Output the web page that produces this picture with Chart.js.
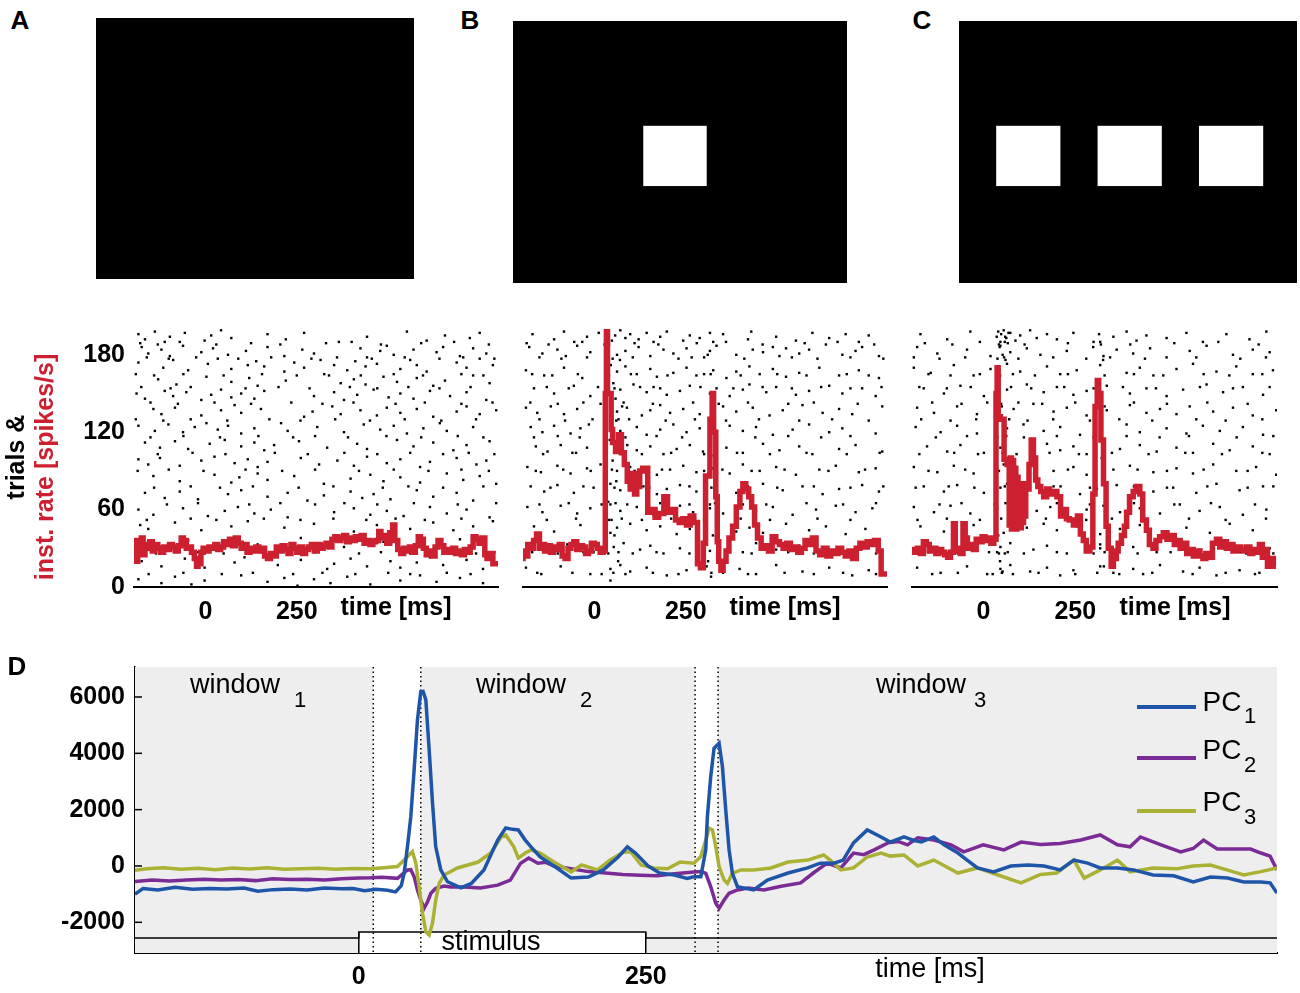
<!DOCTYPE html>
<html>
<head>
<meta charset="utf-8">
<script src="https://cdn.jsdelivr.net/npm/chart.js@4.4.1/dist/chart.umd.min.js"></script>
<style>
    body { margin: 0; background: #fff; width: 1300px; height: 993px; position: relative; overflow: hidden;
           font-family: "Liberation Sans", Arial, sans-serif; color: #000; }
    .box { position: absolute; }
    .t { position: absolute; transform: translate(-50%, -50%); line-height: 1; white-space: nowrap; }
    .b { font-weight: bold; }
    .rot { transform: translate(-50%, -50%) rotate(-90deg); }
    .key { position: absolute; left: 1137px; width: 59px; height: 4px; }
</style>
</head>
<body>
<!-- stimulus displays -->
<div class="box" style="left:96px;top:18px;width:318px;height:261px"><canvas id="stimA"></canvas></div>
<div class="box" style="left:513px;top:21px;width:334px;height:262px"><canvas id="stimB"></canvas></div>
<div class="box" style="left:959px;top:21px;width:338px;height:262px"><canvas id="stimC"></canvas></div>

<!-- rasters -->
<div class="box" style="left:60px;top:305px;width:450px;height:325px"><canvas id="rasterA"></canvas></div>
<div class="box" style="left:515px;top:320px;width:380px;height:310px"><canvas id="rasterB"></canvas></div>
<div class="box" style="left:905px;top:320px;width:380px;height:310px"><canvas id="rasterC"></canvas></div>

<!-- PCA panel -->
<div class="box" style="left:0;top:642px;width:1300px;height:351px"><canvas id="pcaD"></canvas></div>

<div class="t b" style="left:20px;top:20px;font-size:26px">A</div>
<div class="t b" style="left:470px;top:20px;font-size:26px">B</div>
<div class="t b" style="left:922px;top:20px;font-size:26px">C</div>
<div class="t b" style="left:17px;top:666px;font-size:26px">D</div>

<div class="t b rot" style="left:15px;top:457px;font-size:25px">trials &amp;</div>
<div class="t b rot" style="left:44px;top:467px;font-size:25px;color:#cc2030">inst. rate [spikes/s]</div>
<div class="t b" style="left:396px;top:606px;font-size:25px">time [ms]</div>
<div class="t b" style="left:785px;top:606px;font-size:25px">time [ms]</div>
<div class="t b" style="left:1175px;top:606px;font-size:25px">time [ms]</div>

<div class="t" style="left:235px;top:684px;font-size:27px">window</div>
<div class="t" style="left:300px;top:700px;font-size:22px">1</div>
<div class="t" style="left:521px;top:684px;font-size:27px">window</div>
<div class="t" style="left:586px;top:700px;font-size:22px">2</div>
<div class="t" style="left:921px;top:684px;font-size:27px">window</div>
<div class="t" style="left:980px;top:700px;font-size:22px">3</div>
<div class="t" style="left:491px;top:941px;font-size:27px">stimulus</div>
<div class="t" style="left:930px;top:968px;font-size:27px">time [ms]</div>

<div class="key" style="top:705px;background:#1f55a8"></div>
<div class="key" style="top:756px;background:#7b2b95"></div>
<div class="key" style="top:809px;background:#abb134"></div>
<div class="t" style="left:1222px;top:702px;font-size:28px">PC</div>
<div class="t" style="left:1250px;top:716px;font-size:22px">1</div>
<div class="t" style="left:1222px;top:750px;font-size:28px">PC</div>
<div class="t" style="left:1250px;top:765px;font-size:22px">2</div>
<div class="t" style="left:1222px;top:802px;font-size:28px">PC</div>
<div class="t" style="left:1250px;top:817px;font-size:22px">3</div>

<script>
// ---- stimulus squares, in display units (x0, x1, y0, y1), 0-100 each way
const squaresA = [];
const squaresB = [[39, 58, 37, 60]];
const squaresC = [[11, 30, 37, 60], [41, 60, 37, 60], [71, 90, 37, 60]];

// ---- raster / rate panels: time [ms], trial or spikes/s
const rasterXTicks = [0, 250];
const rasterYTicks = [0, 60, 120, 180];

// instantaneous rate, [time, spikes/s] steps
const rateA = [[-195,22],[-190,36],[-185,20],[-180,34],[-175,26],[-170,38],[-165,25],[-160,33],[-152,30],[-145,35],[-138,28],[-130,33],[-122,30],[-114,27],[-106,31],[-98,29],[-90,33],[-82,31],[-74,28],[-66,32],[-60,38],[-52,36],[-46,30],[-38,31],[-30,27],[-24,22],[-20,16],[-12,18],[-6,27],[2,30],[10,28],[18,31],[26,30],[34,33],[42,29],[50,31],[58,35],[66,33],[74,37],[82,32],[90,38],[98,34],[106,30],[114,33],[122,27],[130,30],[138,28],[146,31],[154,28],[162,30],[170,24],[178,22],[186,26],[194,24],[202,31],[210,28],[218,32],[226,29],[234,26],[242,33],[250,30],[258,27],[266,31],[274,26],[282,29],[290,31],[298,33],[306,28],[314,33],[322,30],[330,32],[338,34],[346,31],[354,37],[362,39],[370,36],[378,38],[386,40],[394,35],[402,38],[410,36],[418,39],[426,37],[434,40],[442,34],[450,36],[458,33],[466,35],[474,36],[480,43],[488,38],[496,40],[504,34],[512,42],[518,48],[526,36],[534,29],[542,26],[550,30],[558,28],[566,31],[574,27],[582,32],[588,39],[596,37],[604,30],[612,25],[620,28],[628,24],[636,31],[644,36],[652,32],[660,27],[668,29],[676,27],[684,30],[692,26],[700,28],[708,25],[716,29],[724,27],[732,31],[740,39],[748,37],[756,34],[764,38],[770,25],[778,22],[786,26],[792,18],[800,18]];
const rateB = [[-195,20],[-188,28],[-182,24],[-174,33],[-166,30],[-158,36],[-150,41],[-144,30],[-136,33],[-128,28],[-120,32],[-112,27],[-104,31],[-96,29],[-88,33],[-80,24],[-72,22],[-64,30],[-56,33],[-48,35],[-40,29],[-32,32],[-24,31],[-16,26],[-8,28],[0,34],[8,33],[16,30],[24,27],[30,28],[33,150],[36,200],[46,150],[50,122],[58,112],[66,105],[74,118],[82,104],[90,95],[98,82],[104,76],[110,88],[116,72],[124,78],[132,90],[146,92],[156,58],[166,60],[176,54],[190,57],[200,70],[212,58],[222,60],[232,52],[242,50],[252,53],[262,48],[272,55],[282,50],[290,18],[298,15],[304,34],[316,86],[322,130],[326,150],[332,120],[336,70],[340,35],[346,20],[352,13],[360,20],[368,28],[378,38],[388,47],[398,62],[406,74],[414,80],[422,76],[430,70],[438,62],[446,48],[456,38],[466,30],[476,32],[486,28],[496,39],[506,35],[516,33],[526,30],[536,34],[546,29],[556,31],[566,27],[576,30],[586,36],[596,33],[606,38],[616,28],[626,25],[636,30],[646,24],[656,28],[666,26],[676,30],[686,27],[696,24],[706,28],[716,22],[726,30],[736,34],[746,31],[756,35],[766,33],[776,36],[784,28],[790,10],[800,10]];
const rateC = [[-195,26],[-188,29],[-180,27],[-172,30],[-164,26],[-156,35],[-148,33],[-138,28],[-130,30],[-122,26],[-114,29],[-106,27],[-98,25],[-90,23],[-82,27],[-77,49],[-70,30],[-63,28],[-56,26],[-50,49],[-44,38],[-36,30],[-28,33],[-20,29],[-12,37],[-4,35],[4,39],[12,36],[20,38],[28,34],[34,37],[37,150],[40,170],[46,132],[56,130],[64,99],[70,95],[73,48],[76,100],[79,45],[82,98],[85,50],[88,92],[91,45],[94,85],[97,48],[100,80],[103,46],[106,78],[109,50],[112,75],[115,55],[118,80],[124,76],[130,95],[136,114],[142,100],[148,83],[156,78],[164,74],[172,70],[180,76],[191,72],[200,74],[210,70],[218,55],[226,60],[234,53],[245,52],[256,48],[264,55],[272,41],[280,36],[290,28],[298,31],[304,72],[310,140],[314,160],[320,150],[327,114],[334,80],[340,47],[348,30],[354,16],[362,22],[367,28],[376,34],[384,40],[390,47],[398,58],[408,70],[416,74],[426,78],[434,72],[444,52],[452,44],[462,33],[470,30],[480,36],[490,39],[500,42],[510,37],[520,40],[526,33],[536,36],[546,30],[554,34],[562,26],[572,29],[582,24],[590,28],[598,24],[606,22],[614,26],[624,23],[635,34],[644,37],[652,31],[662,35],[671,30],[680,33],[690,28],[700,31],[708,29],[716,28],[726,31],[734,26],[744,29],[752,27],[760,33],[768,23],[774,29],[780,16],[790,22],[797,16]];

// spikes, [time, trial]
const spikesA = [
[-183,196],[-165,192],[-138,198],[-111,190],[-97,194],[-56,197],[-2,191],[16,195],[43,199],[71,193],[170,196],[220,192],[270,197],[365,190],[442,194],[551,198],[605,191],[655,195],[723,193],[750,197],
[-174,186],[-156,181],[-120,184],[-97,179],[-61,187],[-11,182],[21,185],[62,180],[111,183],[170,186],[216,179],[265,184],[297,181],[424,185],[442,178],[478,183],[496,187],[515,180],[569,184],[632,182],[650,186],[696,179],[732,185],[768,181],
[-183,174],[-115,170],[-88,176],[-47,168],[7,173],[34,177],[71,169],[116,172],[139,175],[161,171],[216,167],[243,174],[270,170],[315,176],[352,172],[388,168],[410,175],[438,171],[469,173],[533,169],[560,176],[578,172],[605,167],[687,174],[714,170],[750,177],[786,172],
[-129,161],[-79,157],[3,163],[71,159],[120,162],[143,156],[220,160],[338,164],[370,158],[406,161],[438,157],[487,163],[524,159],[578,162],[623,156],[655,160],[732,164],[777,158],
[-188,150],[-165,146],[-111,152],[-88,148],[-52,151],[-11,145],[16,149],[43,153],[71,147],[98,150],[134,146],[161,152],[297,148],[352,151],[379,145],[415,149],[460,153],[501,147],[533,150],[569,146],[614,152],[669,148],[714,151],[768,145],
[-142,138],[-120,134],[-83,139],[-11,133],[43,137],[80,141],[98,135],[152,138],[270,132],[293,136],[347,140],[370,134],[424,137],[469,133],[496,139],[533,135],[578,138],[623,132],[687,136],[714,140],[750,134],[795,137],
[-183,125],[-138,121],[-101,126],[-61,120],[-29,124],[3,127],[34,122],[62,125],[98,119],[134,123],[207,127],[225,121],[306,124],[379,120],[433,126],[478,122],[515,125],[551,119],[596,123],[641,127],[660,121],[732,124],
[-165,112],[-124,108],[-83,113],[-47,107],[12,111],[53,114],[98,109],[134,112],[161,106],[188,110],[256,113],[333,108],[415,111],[442,107],[524,114],[569,109],[623,112],[678,106],[714,110],[777,113],
[-183,99],[-156,95],[-124,100],[-70,94],[-11,98],[25,101],[80,96],[116,99],[143,93],[170,97],[261,100],[311,95],[361,98],[406,94],[442,101],[496,96],[533,99],[587,93],[614,97],[687,100],[741,95],[768,98],
[-142,86],[-70,82],[25,87],[71,81],[93,85],[143,88],[170,83],[243,86],[324,80],[397,84],[451,87],[487,82],[533,85],[587,81],[660,88],[705,83],[750,86],[795,80],
[-165,73],[-111,69],[-70,74],[-20,68],[62,72],[98,75],[170,70],[225,73],[279,67],[324,71],[397,74],[429,69],[460,72],[506,68],[578,75],[623,70],[687,73],[732,67],
[-183,60],[-142,56],[-61,61],[7,55],[53,59],[89,62],[134,57],[179,60],[225,54],[352,58],[406,61],[451,56],[496,59],[542,55],[614,62],[660,57],[714,60],[777,54],
[-178,48],[-156,45],[-83,50],[-11,44],[71,47],[116,51],[216,46],[297,49],[406,43],[469,48],[560,45],[623,50],[678,44],[732,47],[786,51],
[-47,36],[143,33],[261,38],[379,31],[487,35],[578,32],[696,37],
[-174,20],[-120,16],[-56,22],[-2,15],[80,19],[107,23],[198,17],[261,21],[333,14],[352,18],[397,22],[442,16],[506,20],[533,15],[578,19],[614,23],[650,17],[714,21],[759,14],
[-183,6],[-120,3],[-83,8],[-38,2],[-2,5],[98,9],[170,4],[216,7],[252,1],[297,6],[342,3],[388,8],[451,2],[533,5],[587,9],[632,4],[696,7],[759,3],
[-178,189],[-130,188],[-70,190],[30,188],[125,189],[205,188],[330,189],[400,190],[480,188],[590,189],[680,190],[775,188],
[-160,178],[-100,177],[-25,178],[90,177],[180,178],[290,177],[360,178],[455,177],[545,178],[640,177],[705,178],[790,177],
[-190,165],[-140,164],[-60,165],[50,164],[155,165],[250,164],[325,165],[425,164],[515,165],[595,164],[700,165],[760,164],
[-175,155],[-95,154],[-40,155],[110,154],[200,155],[285,154],[395,155],[470,154],[555,155],[640,154],[725,155],
[-150,143],[-75,142],[25,143],[125,142],[235,143],[320,142],[405,143],[520,142],[600,143],[700,142],[785,143],
[-190,130],[-115,129],[-40,130],[60,129],[175,130],[260,129],[355,130],[450,129],[545,130],[645,129],[740,130],
[-150,116],[-60,117],[40,116],[145,117],[240,116],[300,117],[390,116],[495,117],[590,116],[690,117],[760,116],
[-130,103],[-35,104],[55,103],[190,104],[280,103],[380,104],[470,103],[560,104],[650,103],[720,104],[790,103],
[-185,90],[-100,91],[-5,90],[110,91],[210,90],[300,91],[420,90],[515,91],[610,90],[700,91],[775,90],
[-140,77],[-40,78],[40,77],[130,78],[255,77],[350,78],[485,77],[555,78],[650,77],[760,78],
[-105,64],[-20,65],[120,64],[205,65],[300,64],[380,65],[470,64],[570,65],[690,64],[795,65],
[-160,52],[-40,53],[30,52],[160,53],[260,52],[350,53],[440,52],[520,53],[600,52],[700,53],
[-190,27],[-135,26],[-20,27],[50,26],[150,27],[230,26],[300,27],[420,26],[480,27],[560,26],[680,27],[740,26],[790,27],
[-155,10],[-60,11],[45,10],[130,11],[240,10],[320,11],[410,10],[500,11],[560,10],[660,11],[725,10]
];
const spikesB = [
[-169,196],[-110,192],[-83,198],[-33,190],[-20,194],[12,197],[48,191],[57,195],[71,199],[85,193],[98,196],[121,192],[143,197],[162,190],[180,194],[198,198],[243,191],[261,195],[288,193],[316,197],[325,190],[352,196],[420,192],[429,198],[497,194],[551,191],[596,197],[642,193],[687,196],[723,190],[750,195],
[-178,186],[-142,181],[-101,184],[-78,179],[-47,187],[-11,182],[35,185],[62,180],[85,183],[121,186],[153,179],[189,184],[216,181],[252,185],[266,178],[316,183],[334,187],[388,180],[433,184],[461,182],[488,186],[506,179],[524,185],[560,181],[587,184],[633,188],[678,180],[714,183],[732,186],[778,179],
[-187,168],[-137,164],[-83,170],[-33,162],[62,167],[85,171],[116,165],[153,169],[171,163],[216,166],[252,170],[279,164],[325,168],[361,162],[388,167],[424,171],[452,165],[488,169],[524,163],[560,166],[615,170],[669,164],[723,168],[778,162],
[-165,154],[-110,150],[-56,156],[-11,148],[71,153],[107,157],[143,151],[162,155],[198,149],[234,152],[261,156],[316,150],[334,154],[370,148],[406,153],[424,157],[470,151],[497,155],[551,149],[587,152],[642,156],[678,150],[732,154],[769,148],
[-187,139],[-156,135],[-119,140],[-83,134],[-47,138],[17,142],[62,136],[89,139],[130,133],[153,137],[180,141],[207,135],[243,138],[288,134],[352,140],[388,136],[433,139],[479,133],[515,137],[569,141],[624,135],[669,138],[705,134],[787,140],
[-174,124],[-142,120],[-110,125],[-65,119],[-38,123],[-15,126],[71,121],[116,124],[143,118],[180,122],[216,126],[252,120],[288,123],[316,119],[370,125],[406,121],[442,124],[488,118],[542,122],[587,126],[642,120],[678,123],[769,119],
[-160,109],[-128,105],[-92,110],[-60,104],[-20,108],[71,111],[116,106],[153,109],[189,103],[225,107],[261,110],[297,105],[361,108],[406,104],[461,111],[506,106],[560,109],[596,103],[669,107],[714,110],[787,105],
[-183,93],[-146,89],[-101,94],[-65,88],[-20,92],[17,95],[62,90],[98,93],[171,87],[207,91],[243,94],[279,89],[325,92],[370,88],[406,95],[452,90],[497,93],[551,87],[615,91],[660,94],[723,89],[769,92],
[-174,78],[-137,74],[-101,79],[-56,73],[-2,77],[44,80],[71,75],[134,78],[171,72],[198,76],[234,79],[279,74],[334,77],[388,73],[461,80],[515,75],[569,78],[624,72],[669,76],[732,79],[778,74],
[-183,62],[-142,58],[-92,63],[-47,57],[-11,61],[44,64],[71,59],[116,62],[162,56],[198,60],[234,63],[270,58],[316,61],[352,57],[406,64],[442,59],[488,62],[542,56],[606,60],[660,63],[714,58],[760,61],
[-165,47],[-110,43],[-38,48],[44,42],[62,46],[98,49],[143,44],[180,47],[225,41],[261,45],[334,48],[388,43],[424,46],[461,42],[524,49],[587,44],[633,47],[687,41],[741,45],
[-183,32],[-128,28],[-74,33],[-2,27],[53,31],[80,34],[125,29],[153,32],[189,26],[234,30],[279,33],[316,28],[370,31],[406,27],[442,34],[497,29],[560,32],[624,26],[669,30],[750,33],[778,28],
[-187,15],[-156,11],[-92,16],[-11,10],[44,14],[71,17],[98,12],[143,15],[198,9],[252,13],[307,16],[352,11],[397,14],[442,10],[497,17],[569,12],[642,15],[705,9],[750,13],
[40,188],[45,172],[52,158],[58,146],[66,130],[42,114],[50,98],[60,82],[38,66],[47,52],[55,40],[65,20],[44,5],[70,176],[76,140],[90,110],[310,180],[318,165],[322,150],[326,130],[314,120],[320,102],[312,88],[328,76],[316,64],[324,40],[311,20],[319,8],
[-185,189],[-125,188],[-55,190],[28,188],[110,189],[175,188],[280,189],[360,190],[460,188],[575,189],[665,190],[765,188],
[-150,178],[-90,177],[-20,178],[50,177],[105,178],[230,177],[300,178],[410,177],[540,178],[610,177],[700,178],[790,177],
[-170,165],[-115,164],[-45,165],[40,164],[100,165],[200,164],[300,165],[400,164],[500,165],[580,164],[690,165],[750,164],
[-130,155],[-70,154],[10,155],[55,154],[125,155],[180,154],[290,155],[380,154],[460,155],[540,154],[620,155],[700,154],[785,155],
[-175,143],[-100,142],[-30,143],[48,142],[80,143],[160,142],[270,143],[340,142],[420,143],[530,142],[600,143],[720,142],
[-150,130],[-80,129],[-5,130],[60,129],[95,130],[195,129],[275,130],[360,129],[450,130],[560,129],[650,130],[750,129],
[-165,116],[-100,117],[-40,116],[52,117],[85,116],[170,117],[240,116],[330,117],[440,116],[530,117],[620,116],[700,117],
[-140,103],[-50,104],[30,103],[68,104],[130,103],[210,104],[300,103],[390,104],[480,103],[580,104],[690,103],[780,104],
[-160,90],[-85,91],[-10,90],[48,91],[110,90],[185,91],[300,90],[350,91],[430,90],[520,91],[640,90],[740,91],
[-120,77],[-30,78],[55,77],[95,78],[150,77],[260,78],[320,77],[420,78],[500,77],[600,78],[700,77],[790,78],
[-150,64],[-70,65],[20,64],[58,65],[90,64],[180,65],[260,64],[330,65],[470,64],[580,65],[680,64],[770,65],
[-130,52],[-50,53],[40,52],[75,53],[130,52],[210,53],[300,52],[400,53],[480,52],[610,53],[700,52],
[-170,27],[-100,26],[-30,27],[38,26],[66,27],[105,26],[170,27],[260,26],[340,27],[430,26],[530,27],[600,26],[700,27],[770,26],
[-145,10],[-60,11],[20,10],[52,11],[85,10],[160,11],[230,10],[320,11],[420,10],[520,11],[600,10],[680,11],[770,10]
];
const spikesC = [
[-172,196],[-99,192],[-36,198],[46,190],[59,194],[73,197],[87,191],[100,195],[127,199],[145,193],[173,196],[200,192],[245,197],[318,190],[354,194],[390,198],[417,191],[444,195],[499,193],[553,197],[598,190],[662,196],[725,192],[771,198],
[-181,186],[-126,181],[-45,184],[19,179],[46,187],[73,182],[118,185],[155,180],[227,183],[299,186],[327,179],[363,184],[408,181],[454,185],[499,178],[562,183],[608,187],[680,180],[734,184],[780,182],
[-190,170],[-144,166],[-81,172],[-27,164],[19,169],[64,173],[100,167],[173,171],[209,165],[254,168],[318,172],[390,166],[426,170],[463,164],[526,169],[571,173],[635,167],[689,171],[734,165],[789,168],
[-163,154],[-108,150],[-63,156],[1,148],[64,153],[118,157],[164,151],[200,155],[245,149],[281,152],[336,156],[399,150],[444,154],[499,148],[544,153],[608,157],[653,151],[707,155],[762,149],
[-181,139],[-135,135],[-72,140],[-18,134],[82,138],[136,142],[191,136],[227,139],[281,133],[336,137],[399,141],[444,135],[481,138],[526,134],[562,140],[626,136],[680,139],[734,133],[798,137],
[-185,124],[-117,120],[-72,125],[-18,119],[64,123],[109,126],[164,121],[209,124],[263,118],[318,122],[390,126],[426,120],[499,123],[553,119],[598,125],[644,121],[707,124],[762,118],
[-154,109],[-99,105],[-63,110],[1,104],[46,108],[173,111],[209,106],[245,109],[281,103],[372,107],[426,110],[472,105],[526,108],[571,104],[626,111],[671,106],[734,109],[780,103],
[-190,93],[-126,89],[-81,94],[-27,88],[37,92],[55,95],[191,90],[245,93],[281,87],[354,91],[399,94],[463,89],[526,92],[571,88],[626,95],[689,90],[743,93],[798,87],
[-163,78],[-108,74],[-72,79],[1,73],[46,77],[64,80],[155,75],[191,78],[263,72],[309,76],[363,79],[463,74],[517,77],[580,73],[635,80],[698,75],[762,78],
[-190,62],[-135,58],[-90,63],[-36,57],[37,61],[73,64],[145,59],[182,62],[227,56],[281,60],[327,63],[372,58],[426,61],[481,57],[535,64],[589,59],[644,62],[707,56],[771,60],
[-172,47],[-108,43],[-27,48],[55,42],[118,46],[164,49],[200,44],[254,47],[318,41],[372,45],[426,48],[499,43],[553,46],[617,42],[671,49],[734,44],
[-163,32],[-90,28],[-36,33],[37,27],[46,31],[73,34],[136,29],[173,32],[227,26],[281,30],[318,33],[363,28],[408,31],[472,27],[535,34],[589,29],[644,32],[716,26],[780,30],
[-181,15],[-117,11],[-45,16],[10,10],[46,14],[73,17],[127,12],[173,15],[209,9],[245,13],[318,16],[354,11],[408,14],[435,10],[481,17],[544,12],[589,15],[635,9],[698,13],[752,11],
[40,198],[48,196],[55,199],[62,193],[68,197],[44,186],[52,180],[60,176],[35,150],[50,140],[45,20],[52,12],[58,26],[40,40],[315,196],[320,188],[326,176],[310,160],[330,140],[322,100],[318,30],[328,16],[36,194],[58,190],
[-160,189],[-85,188],[-10,190],[42,188],[66,189],[112,188],[230,189],[300,190],[400,188],[520,189],[640,190],[750,188],
[-190,178],[-120,177],[-50,178],[38,177],[56,178],[95,177],[190,178],[280,177],[345,178],[440,177],[580,178],[700,177],[770,178],
[-150,165],[-90,164],[-10,165],[45,164],[80,165],[140,164],[230,165],[330,164],[410,165],[490,164],[600,165],[670,164],[760,165],
[-175,155],[-100,154],[-35,155],[40,154],[75,155],[130,154],[220,155],[300,154],[380,155],[470,154],[590,155],[680,154],[780,155],
[-140,143],[-60,142],[10,143],[48,142],[95,143],[160,142],[250,143],[320,142],[410,143],[500,142],[610,143],[720,142],
[-170,130],[-90,129],[-20,130],[44,129],[70,130],[120,129],[190,130],[290,129],[370,130],[460,129],[580,130],[660,129],[760,130],
[-130,116],[-45,117],[38,116],[62,117],[110,116],[200,117],[300,116],[390,117],[480,116],[560,117],[690,116],[790,117],
[-175,103],[-80,104],[-15,103],[52,104],[90,103],[180,104],[260,103],[350,104],[450,103],[550,104],[650,103],[760,104],
[-150,90],[-50,91],[42,90],[80,91],[125,90],[230,91],[330,90],[420,91],[500,90],[600,91],[720,90],
[-185,77],[-95,78],[-25,77],[58,78],[100,77],[210,78],[290,77],[410,78],[500,77],[610,78],[720,77],[790,78],
[-120,64],[-60,65],[30,64],[60,65],[100,64],[200,65],[290,64],[410,65],[520,64],[620,65],[740,64],
[-180,52],[-100,53],[-10,52],[48,53],[90,52],[170,53],[280,52],[350,53],[440,52],[560,53],[660,52],[770,53],
[-150,27],[-70,26],[15,27],[42,26],[66,27],[110,26],[200,27],[300,26],[330,27],[420,26],[510,27],[620,26],[700,27],[790,26],
[-140,10],[-70,11],[25,10],[50,11],[80,10],[150,11],[250,10],[310,11],[370,10],[460,11],[570,10],[660,11],[740,10]
];

// ---- panel D: principal components, [time ms, score]
const dXTicks = [0, 250];
const dYTicks = [-2000, 0, 2000, 4000, 6000];
const windowsD = [[-195, 12.6], [54, 293], [313, 800]];   // shaded analysis windows
const windowEdges = [12.6, 54, 293, 313];                // dotted borders
const stimulusOn = 0, stimulusOff = 250;
const stripLevel = -2556, stimBoxTop = -2343;

const pc1 = [[-195,-1000],[-188,-800],[-175,-850],[-160,-760],[-145,-830],[-130,-800],[-115,-820],[-100,-780],[-88,-900],[-75,-840],[-60,-820],[-45,-850],[-30,-780],[-15,-810],[-5,-800],[5,-880],[15,-830],[25,-860],[32,-920],[37,-700],[39.5,-260],[42.4,690],[45.3,1750],[48.2,3410],[51.1,5190],[54,6190],[56,6200],[58.4,5900],[61.3,4120],[64.2,2240],[67,690],[71.4,-140],[77.3,-560],[89,-780],[98,-620],[109,-140],[121,920],[128,1350],[134,1300],[139,1280],[145,920],[150,680],[158,320],[170,0],[185,-430],[200,-390],[213,-140],[226,320],[234,680],[241,460],[252,0],[262,-250],[275,-320],[286,-440],[292,-380],[298,-380],[302.3,570],[303.7,1750],[306.6,3170],[309.5,4180],[313.9,4360],[316.8,3530],[319.7,1990],[322.6,570],[325.5,-260],[329.9,-735],[344,-850],[356,-500],[374,-250],[391,-70],[402,100],[414,100],[422,210],[431,820],[443,1280],[455,1030],[463,850],[475,1030],[484,900],[490,850],[501,1030],[510,750],[522,460],[530,210],[539,-70],[553,-210],[568,0],[583,35],[597,0],[611,-140],[623,210],[635,100],[646,-70],[661,-70],[675,-140],[692,-320],[710,-350],[727,-570],[742,-390],[757,-430],[771,-570],[786,-570],[794,-600],[800,-960]];
const pc2 = [[-195,-550],[-180,-500],[-165,-530],[-150,-500],[-135,-470],[-120,-500],[-105,-480],[-90,-520],[-75,-450],[-60,-480],[-45,-470],[-30,-500],[-15,-450],[0,-430],[10,-420],[20,-400],[33.7,-440],[42.4,-140],[45.3,-130],[48.2,-380],[51.1,-850],[54,-1210],[56.9,-1500],[59.9,-1270],[62.8,-970],[67,-790],[74.3,-710],[80,-750],[92,-750],[106,-780],[121,-680],[132,-500],[141,100],[148,280],[156,100],[163,130],[170,0],[185,-100],[200,-200],[215,-250],[230,-300],[245,-330],[260,-350],[275,-280],[292,-210],[298,-200],[302.3,-260],[306.6,-735],[311,-1325],[313.9,-1500],[318.3,-1210],[322.6,-970],[329.9,-850],[339,-780],[353,-850],[368,-720],[385,-600],[396,-250],[408,100],[420,-70],[431,460],[440,400],[449,570],[461,820],[470,870],[478,750],[487,1000],[501,920],[516,750],[527,500],[544,750],[562,570],[577,850],[594,760],[611,800],[629,920],[646,1100],[661,750],[672,680],[681,1030],[699,750],[716,500],[727,620],[736,920],[748,600],[762,600],[777,600],[786,460],[794,350],[800,-140]];
const pc3 = [[-195,-150],[-185,-100],[-170,-60],[-155,-120],[-140,-80],[-125,-130],[-110,-70],[-95,-110],[-80,-60],[-65,-120],[-50,-100],[-35,-80],[-20,-120],[-5,-90],[10,-100],[22,-60],[33.7,-20],[42.4,330],[46.7,510],[49.7,95],[52.5,-735],[55.5,-1680],[58.4,-2330],[61.3,-2450],[64.2,-2035],[67,-1210],[70,-615],[74.3,-320],[86,-70],[104,140],[115,460],[124,1030],[128,1100],[135,680],[139,280],[145,460],[150,570],[158,460],[170,140],[185,-210],[194,35],[208,-140],[219,210],[231,500],[237,500],[246,35],[257,-70],[269,-100],[280,140],[292,95],[297.9,330],[302.3,920],[305.2,1340],[308.1,1280],[311,690],[313.9,-20],[318.3,-500],[321.2,-615],[325.5,-260],[332.8,-140],[344,-140],[359,-70],[374,140],[391,210],[405,390],[411,200],[420,-140],[431,-70],[443,320],[455,460],[463,350],[475,390],[487,0],[501,210],[522,-250],[539,-70],[557,-320],[577,-600],[594,-300],[608,-250],[623,210],[632,-430],[646,-140],[661,210],[672,-210],[692,-70],[713,-100],[727,0],[742,35],[757,-150],[771,-320],[786,-200],[800,-70]];

const T_MIN = -195, T_MAX = 800;
const D_MIN = -3090, D_MAX = 7065;

const RED = '#cc2030', BLUE = '#1f55a8', PURPLE = '#7b2b95', OLIVE = '#abb134', GREY = '#eeeeee';

Chart.defaults.font.family = '"Liberation Sans", Arial, sans-serif';
Chart.defaults.color = '#000';
Chart.defaults.animation = false;
Chart.defaults.events = [];
Chart.defaults.plugins.legend.display = false;
Chart.defaults.plugins.tooltip.enabled = false;

const xy = arr => arr.map(p => ({ x: p[0], y: p[1] }));
const fixedTicks = list => scale => { scale.ticks = list.map(v => ({ value: v })); };
const plain = v => String(v);
const tickFont = { size: 25, weight: 'bold' };
const noGrid = { display: false, drawTicks: false };

// black screen with white squares
const stimPlugin = {
    id: 'stim',
    beforeDraw(chart, args, opts) {
        const { ctx, chartArea: a, scales: { x, y } } = chart;
        ctx.save();
        ctx.fillStyle = '#000';
        ctx.fillRect(a.left, a.top, a.width, a.height);
        ctx.fillStyle = '#fff';
        opts.squares.forEach(s => {
            const x0 = x.getPixelForValue(s[0]), x1 = x.getPixelForValue(s[1]);
            const yTop = y.getPixelForValue(s[3]), yBot = y.getPixelForValue(s[2]);
            ctx.fillRect(x0, yTop, x1 - x0, yBot - yTop);
        });
        ctx.restore();
    }
};

function stimulusChart(id, squares) {
    new Chart(document.getElementById(id), {
        type: 'scatter',
        data: { datasets: [] },
        options: {
            responsive: true, maintainAspectRatio: false,
            layout: { padding: 0 },
            plugins: { stim: { squares } },
            scales: {
                x: { type: 'linear', min: 0, max: 100, display: false },
                y: { type: 'linear', min: 0, max: 100, display: false }
            }
        },
        plugins: [stimPlugin]
    });
}

function rasterChart(id, spikes, rate, showY, padding) {
    new Chart(document.getElementById(id), {
        type: 'scatter',
        data: {
            datasets: [
                { type: 'line', data: xy(rate), stepped: 'after', borderColor: RED, borderWidth: 5.5,
                  pointRadius: 0, fill: false, order: 0 },
                { data: xy(spikes), pointStyle: 'rect', pointRadius: 1.7, backgroundColor: '#000',
                  borderWidth: 0, order: 1 }
            ]
        },
        options: {
            responsive: true, maintainAspectRatio: false,
            layout: { padding },
            scales: {
                x: {
                    type: 'linear', min: T_MIN, max: T_MAX,
                    grid: noGrid, border: { color: '#000', width: 2 },
                    ticks: { font: tickFont, padding: 10, maxRotation: 0, callback: plain },
                    afterBuildTicks: fixedTicks(rasterXTicks),
                    afterFit: s => { s.height = 43; }
                },
                y: {
                    display: showY, type: 'linear', min: 0, max: 200,
                    grid: noGrid, border: { display: false },
                    ticks: { font: tickFont, padding: 9, callback: plain },
                    afterBuildTicks: fixedTicks(rasterYTicks),
                    afterFit: s => { s.width = showY ? 74 : 0; }
                }
            }
        }
    });
}

// shaded windows, stimulus strip and inward y ticks for panel D
const windowShade = {
    id: 'windowShade',
    beforeDatasetsDraw(chart) {
        const { ctx, chartArea: a, scales: { x, y } } = chart;
        const yStrip = y.getPixelForValue(stripLevel);
        ctx.save();
        ctx.fillStyle = GREY;
        windowsD.forEach(w => {
            const x0 = x.getPixelForValue(w[0]), x1 = x.getPixelForValue(w[1]);
            ctx.fillRect(x0, a.top, x1 - x0, yStrip - a.top);
        });
        ctx.fillRect(a.left, yStrip, a.width, a.bottom - yStrip);
        ctx.fillStyle = '#fff';
        const s0 = x.getPixelForValue(stimulusOn), s1 = x.getPixelForValue(stimulusOff);
        const sTop = y.getPixelForValue(stimBoxTop);
        ctx.fillRect(s0, sTop, s1 - s0, a.bottom - sTop);
        ctx.restore();
    },
    afterDraw(chart) {
        const { ctx, chartArea: a, scales: { y } } = chart;
        ctx.save();
        ctx.strokeStyle = '#000';
        ctx.lineWidth = 1.5;
        dYTicks.forEach(v => {
            const py = y.getPixelForValue(v);
            ctx.beginPath();
            ctx.moveTo(a.left, py);
            ctx.lineTo(a.left + 7, py);
            ctx.stroke();
        });
        ctx.restore();
    }
};

function pcaChart() {
    const edgeSets = windowEdges.map(t => ({
        type: 'line', data: xy([[t, D_MAX], [t, D_MIN]]), borderColor: '#000', borderWidth: 1.5,
        borderDash: [1.5, 3], pointRadius: 0, order: 5
    }));
    const stimOutline = [
        [T_MIN, stripLevel], [stimulusOn, stripLevel], [stimulusOn, stimBoxTop],
        [stimulusOff, stimBoxTop], [stimulusOff, stripLevel], [T_MAX, stripLevel]
    ];
    const outlineSets = [
        stimOutline,
        [[stimulusOn, stimBoxTop], [stimulusOn, D_MIN]],
        [[stimulusOff, stimBoxTop], [stimulusOff, D_MIN]]
    ].map(pts => ({
        type: 'line', data: xy(pts), borderColor: '#000', borderWidth: 1.5, pointRadius: 0, order: 6
    }));
    const pcSet = (pts, color, order) => ({
        type: 'line', data: xy(pts), borderColor: color, borderWidth: 3.5, pointRadius: 0, order
    });

    new Chart(document.getElementById('pcaD'), {
        type: 'scatter',
        data: {
            datasets: [
                pcSet(pc1, BLUE, 1), pcSet(pc3, OLIVE, 2), pcSet(pc2, PURPLE, 3),
                ...edgeSets, ...outlineSets
            ]
        },
        options: {
            responsive: true, maintainAspectRatio: false,
            layout: { padding: { top: 0, right: 23, left: 0, bottom: 0 } },
            scales: {
                x: {
                    type: 'linear', min: T_MIN, max: T_MAX,
                    grid: noGrid, border: { color: '#000', width: 2 },
                    ticks: { font: tickFont, padding: 9, maxRotation: 0, callback: plain },
                    afterBuildTicks: fixedTicks(dXTicks),
                    afterFit: s => { s.height = 40; }
                },
                y: {
                    type: 'linear', min: D_MIN, max: D_MAX,
                    grid: noGrid, border: { color: '#000', width: 1.5 },
                    ticks: { font: tickFont, padding: 10, callback: plain },
                    afterBuildTicks: fixedTicks(dYTicks),
                    afterFit: s => { s.width = 135; }
                }
            }
        },
        plugins: [windowShade]
    });
}

stimulusChart('stimA', squaresA);
stimulusChart('stimB', squaresB);
stimulusChart('stimC', squaresC);
rasterChart('rasterA', spikesA, rateA, true, { top: 0, right: 12, left: 0, bottom: 0 });
rasterChart('rasterB', spikesB, rateB, false, { top: 9, right: 8, left: 8, bottom: 0 });
rasterChart('rasterC', spikesC, rateC, false, { top: 9, right: 8, left: 7, bottom: 0 });
pcaChart();
</script>
</body>
</html>
